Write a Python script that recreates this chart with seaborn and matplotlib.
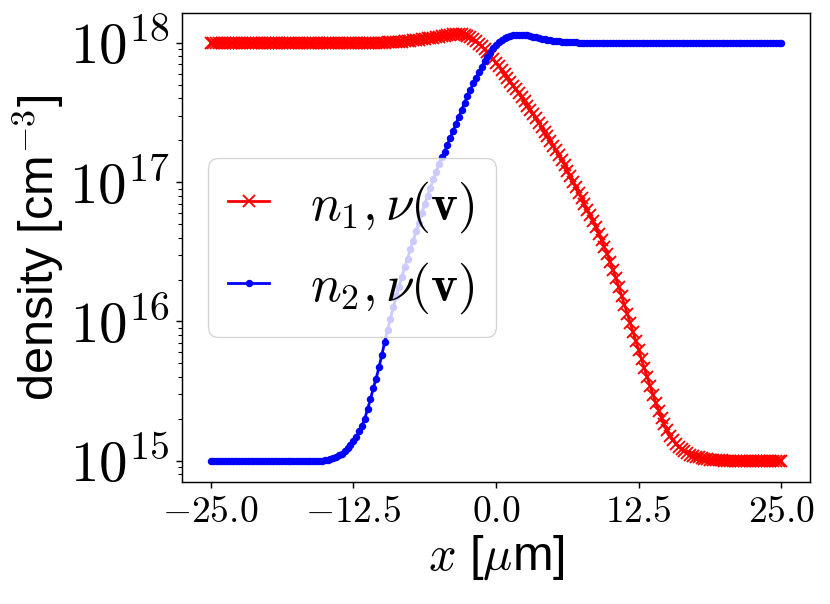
import numpy as np
import pandas as pd
import matplotlib
matplotlib.use("Agg")
import matplotlib.pyplot as plt
import seaborn as sns
from matplotlib.ticker import FixedLocator, FuncFormatter, NullFormatter, LogLocator

# ---------------- data ----------------
# sampling grid in micrometres (-25 ... 25, step 0.25)
x_um = np.linspace(-25.0, 25.0, 201)

# log10 of n1 density [cm^-3]
n1_log10 = [
    18.0, 18.0, 18.0, 18.0, 18.0, 18.0, 18.0, 18.0, 18.0, 18.0,
    18.0, 18.0, 18.0, 18.0, 18.0, 18.0, 18.0, 18.0, 18.0, 18.0,
    18.0, 18.0, 18.0, 18.0, 18.0, 18.0, 18.0, 18.0, 18.0, 18.0,
    18.0, 18.0, 18.0, 18.0, 18.0, 18.0, 18.0, 18.0, 18.0, 18.0,
    18.0, 18.0, 18.0, 18.0, 18.0, 18.0, 18.0, 18.0, 18.0, 18.0,
    18.0, 18.0, 18.0, 18.0, 18.0, 18.0, 18.0, 18.0, 18.0, 18.0,
    18.001, 18.002, 18.003, 18.004, 18.005, 18.006, 18.008, 18.010, 18.012, 18.014,
    18.016, 18.018, 18.020, 18.023, 18.026, 18.029, 18.032, 18.035, 18.038, 18.041,
    18.045, 18.048, 18.052, 18.055, 18.058, 18.061, 18.063, 18.064, 18.063, 18.058,
    18.050, 18.040, 18.027, 18.012, 17.995, 17.975, 17.955, 17.932, 17.908, 17.883,
    17.858, 17.832, 17.805, 17.778, 17.750, 17.722, 17.694, 17.666, 17.638, 17.610,
    17.580, 17.550, 17.520, 17.490, 17.458, 17.428, 17.397, 17.363, 17.330, 17.296,
    17.262, 17.228, 17.194, 17.159, 17.122, 17.083, 17.044, 17.004, 16.964, 16.924,
    16.884, 16.844, 16.803, 16.762, 16.720, 16.676, 16.631, 16.584, 16.535, 16.483,
    16.428, 16.370, 16.310, 16.248, 16.185, 16.121, 16.056, 15.990, 15.924, 15.858,
    15.792, 15.727, 15.662, 15.598, 15.535, 15.474, 15.415, 15.360, 15.308, 15.260,
    15.217, 15.180, 15.148, 15.121, 15.099, 15.081, 15.066, 15.054, 15.044, 15.036,
    15.029, 15.023, 15.018, 15.014, 15.011, 15.008, 15.006, 15.004, 15.003, 15.002,
    15.001, 15.0, 15.0, 15.0, 15.0, 15.0, 15.0, 15.0, 15.0, 15.0,
    15.0, 15.0, 15.0, 15.0, 15.0, 15.0, 15.0, 15.0, 15.0, 15.0,
    15.0,
]

# log10 of n2 density [cm^-3]
n2_log10 = [
    15.0, 15.0, 15.0, 15.0, 15.0, 15.0, 15.0, 15.0, 15.0, 15.0,
    15.0, 15.0, 15.0, 15.0, 15.0, 15.0, 15.0, 15.0, 15.0, 15.0,
    15.0, 15.0, 15.0, 15.0, 15.0, 15.0, 15.0, 15.0, 15.0, 15.0,
    15.0, 15.0, 15.0, 15.0, 15.0, 15.0, 15.0, 15.0, 15.0, 15.0,
    15.002, 15.005, 15.010, 15.020, 15.030, 15.040, 15.050, 15.070, 15.090, 15.110,
    15.140, 15.170, 15.210, 15.250, 15.300, 15.370, 15.440, 15.520, 15.590, 15.670,
    15.760, 15.850, 15.940, 16.020, 16.100, 16.180, 16.250, 16.320, 16.390, 16.450,
    16.520, 16.580, 16.650, 16.710, 16.780, 16.840, 16.900, 16.960, 17.020, 17.070,
    17.130, 17.180, 17.220, 17.270, 17.320, 17.370, 17.420, 17.470, 17.520, 17.570,
    17.620, 17.660, 17.710, 17.750, 17.790, 17.830, 17.870, 17.900, 17.930, 17.960,
    17.985, 18.005, 18.022, 18.035, 18.045, 18.051, 18.055, 18.058, 18.060, 18.060,
    18.058, 18.055, 18.050, 18.045, 18.040, 18.035, 18.030, 18.026, 18.022, 18.019,
    18.016, 18.013, 18.011, 18.009, 18.008, 18.006, 18.005, 18.004, 18.003, 18.002,
    18.002, 18.001, 18.001, 18.0, 18.0, 18.0, 18.0, 18.0, 18.0, 18.0,
    18.0, 18.0, 18.0, 18.0, 18.0, 18.0, 18.0, 18.0, 18.0, 18.0,
    18.0, 18.0, 18.0, 18.0, 18.0, 18.0, 18.0, 18.0, 18.0, 18.0,
    18.0, 18.0, 18.0, 18.0, 18.0, 18.0, 18.0, 18.0, 18.0, 18.0,
    18.0, 18.0, 18.0, 18.0, 18.0, 18.0, 18.0, 18.0, 18.0, 18.0,
    18.0, 18.0, 18.0, 18.0, 18.0, 18.0, 18.0, 18.0, 18.0, 18.0,
    18.0, 18.0, 18.0, 18.0, 18.0, 18.0, 18.0, 18.0, 18.0, 18.0,
    18.0,
]

x_ticks = [-25.0, -12.5, 0.0, 12.5, 25.0]
y_ticks = [1e15, 1e16, 1e17, 1e18]
label_n1 = r"$n_1, \nu(\mathbf{v})$"
label_n2 = r"$n_2, \nu(\mathbf{v})$"
x_label = r"$x$ [$\mu$m]"
y_label = r"density [cm$^{-3}$]"

df = pd.DataFrame({
    "x": x_um,
    "n1": np.power(10.0, n1_log10),
    "n2": np.power(10.0, n2_log10),
})

# ---------------- style ----------------
plt.rcParams.update({
    "mathtext.fontset": "cm",
    "axes.linewidth": 1.05,
    "axes.unicode_minus": True,
})
plt.rcParams["font.family"] = ["Liberation Sans", "DejaVu Sans"]

fig = plt.figure(figsize=(8.3, 6.04), dpi=100)
ax = fig.add_axes([0.2193, 0.2020, 0.7566, 0.7765])

sns.lineplot(data=df, x="x", y="n1", color="red", marker="x",
             markeredgecolor="red", markersize=8.5, markeredgewidth=1.35,
             linewidth=2.0, estimator=None, sort=False, label=label_n1, ax=ax)
sns.lineplot(data=df, x="x", y="n2", color="blue", marker=".",
             markeredgecolor="blue", markersize=8.5, markeredgewidth=1.1,
             linewidth=2.0, estimator=None, sort=False, label=label_n2, ax=ax)

ax.set_yscale("log")
ax.set_xlim(-27.5, 27.5)
ax.set_ylim(7.03e14, 1.64e18)

ax.xaxis.set_major_locator(FixedLocator(x_ticks))
ax.xaxis.set_major_formatter(FuncFormatter(lambda v, p: f"${v:.1f}$"))
ax.yaxis.set_major_locator(FixedLocator(y_ticks))
ax.yaxis.set_minor_locator(LogLocator(base=10.0, subs=np.arange(2, 10), numticks=20))
ax.yaxis.set_major_formatter(
    FuncFormatter(lambda v, p: f"$10^{{{int(round(np.log10(v)))}}}$"))
ax.yaxis.set_minor_formatter(NullFormatter())

ax.tick_params(axis="x", which="major", labelsize=27, length=4.5, width=1.05, pad=4.5)
ax.tick_params(axis="y", which="major", labelsize=41, length=4.5, width=1.05, pad=4.5)
ax.tick_params(axis="y", which="minor", length=2.6, width=0.8)

ax.set_xlabel(x_label, fontsize=35, labelpad=2)
ax.set_ylabel(y_label, fontsize=35, labelpad=2)

leg = ax.legend(loc="center left", fontsize=37, handlelength=0.8,
                handletextpad=0.8, framealpha=0.8, borderaxespad=0.5)

fig.savefig("out.png", dpi=100)
